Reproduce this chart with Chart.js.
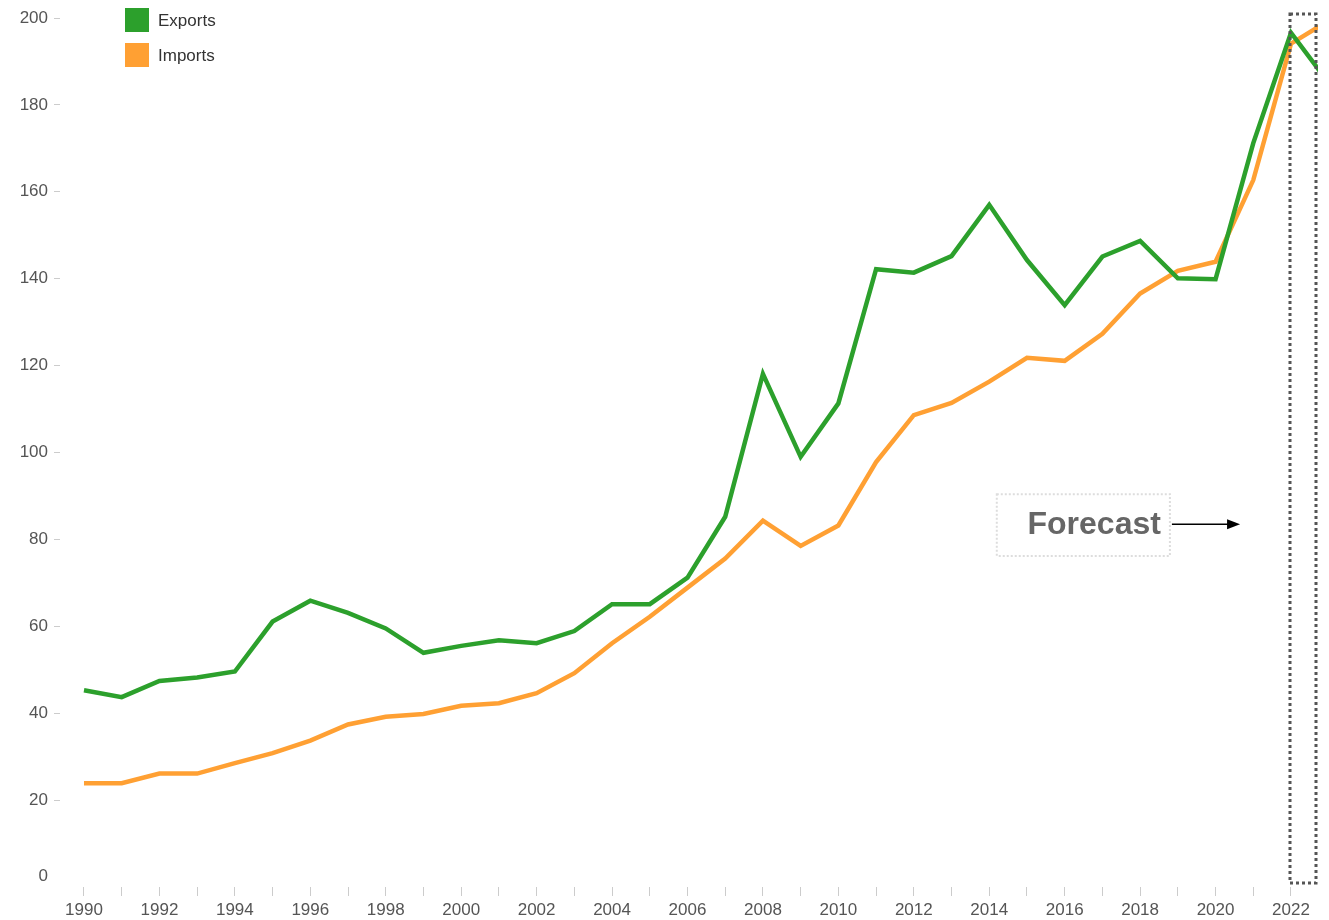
<!DOCTYPE html>
<html>
<head>
<meta charset="utf-8">
<script src="https://cdn.jsdelivr.net/npm/chart.js@4.4.0/dist/chart.umd.min.js"></script>
<style>
  html, body { margin: 0; padding: 0; background: #fff; }
  #wrap { width: 1329px; height: 920px; position: relative; }
</style>
</head>
<body>
<div id="wrap"><canvas id="chart"></canvas></div>
<script>
// ── Data ──────────────────────────────────────────────────────────────────────
const YEARS   = [1990,1991,1992,1993,1994,1995,1996,1997,1998,1999,2000,2001,2002,2003,2004,2005,2006,
                 2007,2008,2009,2010,2011,2012,2013,2014,2015,2016,2017,2018,2019,2020,2021,2022,2023];
const EXPORTS = [45.3,43.7,47.4,48.2,49.6,61.1,65.9,63.1,59.5,53.9,55.5,56.8,56.1,58.9,65.1,65.1,71.2,
                 85.2,118.1,99.0,111.3,142.2,141.4,145.2,157.0,144.3,133.9,145.1,148.7,140.1,139.9,171.2,196.6,185.0];
const IMPORTS = [23.9,23.9,26.1,26.1,28.5,30.8,33.7,37.4,39.2,39.8,41.7,42.3,44.6,49.2,56.1,62.2,68.9,
                 75.6,84.3,78.5,83.2,97.8,108.6,111.4,116.3,121.8,121.1,127.3,136.6,141.8,143.9,162.7,194.1,199.4];
const Y_TICKS = [0,20,40,60,80,100,120,140,160,180,200];
const FORECAST_FROM = 2022;

const GREEN  = '#2ca02c';
const ORANGE = '#ffa033';
const FONT   = '"Liberation Sans", Arial, sans-serif';

// ── Plugins: legend, zero label, forecast marks ───────────────────────────────
const overlay = {
  id: 'overlay',
  afterDraw(chart) {
    const { ctx, scales: { x, y }, chartArea } = chart;
    ctx.save();

    // legend (top-left, inside plot)
    chart.data.datasets.forEach((ds, i) => {
      const top = 8 + i * 35;
      ctx.fillStyle = ds.borderColor;
      ctx.fillRect(125, top, 24, 24);
      ctx.fillStyle = '#333';
      ctx.font = '17px ' + FONT;
      ctx.textAlign = 'left';
      ctx.textBaseline = 'middle';
      ctx.fillText(ds.label, 158, top + 13);
    });

    // "0" label sits a little above the axis
    ctx.fillStyle = '#555';
    ctx.font = '17px ' + FONT;
    ctx.textAlign = 'right';
    ctx.textBaseline = 'middle';
    ctx.fillText('0', 48, y.getPixelForValue(0) - 11);

    // dotted box around the forecast year
    const fx0 = Math.round(x.getPixelForValue(FORECAST_FROM)) - 1;
    const fx1 = Math.round(chartArea.right) - 2;
    const fy0 = Math.round(y.getPixelForValue(201));
    const fy1 = Math.round(y.getPixelForValue(1));
    ctx.strokeStyle = '#555';
    ctx.lineWidth = 3;
    ctx.setLineDash([3, 3]);
    ctx.strokeRect(fx0, fy0, fx1 - fx0, fy1 - fy0);

    // "Forecast" callout
    const bx0 = x.getPixelForValue(2014.2), bx1 = x.getPixelForValue(2018.79);
    const by0 = y.getPixelForValue(90.4),   by1 = y.getPixelForValue(76.2);
    ctx.strokeStyle = '#ddd';
    ctx.lineWidth = 2;
    ctx.setLineDash([2, 2]);
    ctx.strokeRect(bx0, by0, bx1 - bx0, by1 - by0);
    ctx.setLineDash([]);
    ctx.fillStyle = '#666';
    ctx.font = 'bold 32px ' + FONT;
    ctx.textAlign = 'right';
    ctx.textBaseline = 'middle';
    const ay = y.getPixelForValue(83.5);
    ctx.fillText('Forecast', bx1 - 9, ay + 1);

    // arrow
    const ax0 = bx1 + 2, ax1 = x.getPixelForValue(2020.65);
    ctx.strokeStyle = '#000';
    ctx.fillStyle = '#000';
    ctx.lineWidth = 1.5;
    ctx.beginPath();
    ctx.moveTo(ax0, ay);
    ctx.lineTo(ax1 - 10, ay);
    ctx.stroke();
    ctx.beginPath();
    ctx.moveTo(ax1, ay);
    ctx.lineTo(ax1 - 13, ay - 5);
    ctx.lineTo(ax1 - 13, ay + 5);
    ctx.closePath();
    ctx.fill();

    ctx.restore();
  }
};

// ── Chart ─────────────────────────────────────────────────────────────────────
new Chart(document.getElementById('chart'), {
  type: 'line',
  data: {
    datasets: [
      { label: 'Exports', data: YEARS.map((yr, i) => ({ x: yr, y: EXPORTS[i] })),
        borderColor: GREEN, backgroundColor: GREEN },
      { label: 'Imports', data: YEARS.map((yr, i) => ({ x: yr, y: IMPORTS[i] })),
        borderColor: ORANGE, backgroundColor: ORANGE }
    ]
  },
  options: {
    responsive: true,
    maintainAspectRatio: false,
    animation: false,
    elements: {
      line: { borderWidth: 4.5, tension: 0, borderJoinStyle: 'miter', borderCapStyle: 'butt' },
      point: { radius: 0, hoverRadius: 0 }
    },
    layout: { padding: { top: 18, right: 11, left: 0, bottom: 0 } },
    plugins: { legend: { display: false }, tooltip: { enabled: false } },
    scales: {
      x: {
        type: 'linear',
        min: 1989.364,
        max: 2022.716,
        afterBuildTicks: s => { s.ticks = YEARS.slice(0, -1).map(v => ({ value: v })); },
        afterFit: s => { s.height = 33; },
        border: { display: false },
        grid: { drawOnChartArea: false, drawTicks: true, tickLength: 9, color: '#ccc' },
        ticks: {
          autoSkip: false, maxRotation: 0, padding: 4,
          color: '#555', font: { family: FONT, size: 17 },
          callback: v => (v % 2 === 0 ? String(v) : '')
        }
      },
      y: {
        min: 0,
        max: 200,
        afterBuildTicks: s => { s.ticks = Y_TICKS.map(v => ({ value: v })); },
        afterFit: s => { s.width = 60; },
        border: { display: false },
        grid: {
          drawOnChartArea: false, drawTicks: true, tickLength: 6,
          color: ctx => (ctx.tick && ctx.tick.value === 0 ? 'rgba(0,0,0,0)' : '#ccc')
        },
        ticks: {
          padding: 6, color: '#555', font: { family: FONT, size: 17 },
          callback: v => (v === 0 ? '' : String(v))
        }
      }
    }
  },
  plugins: [overlay]
});
</script>
</body>
</html>
